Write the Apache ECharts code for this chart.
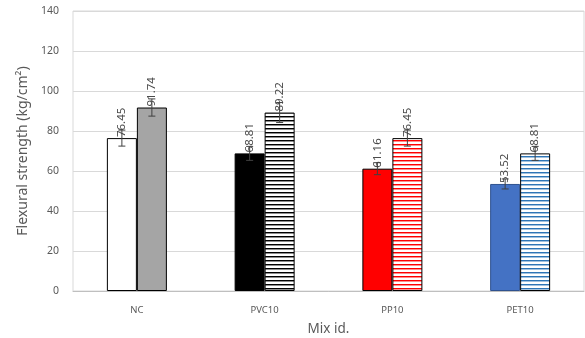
<!DOCTYPE html>
<html>
<head>
<meta charset="utf-8">
<script src="https://cdn.jsdelivr.net/npm/echarts@6/dist/echarts.min.js"></script>
<style>html,body{margin:0;padding:0;background:#fff}#c{width:585px;height:338px}</style>
</head>
<body>
<div id="c"></div>
<script>
// Mix designs and flexural strength results (kg/cm²)
const categories = ['NC', 'PVC10', 'PP10', 'PET10'];
const firstValues = [76.45, 68.81, 61.16, 53.52];
const secondValues = [91.74, 89.22, 76.45, 68.81];
// Standard deviation shown as error bars
const firstErrors = [4.0, 3.5, 3.0, 2.5];
const secondErrors = [4.3, 5.0, 4.0, 3.5];
const yTicks = [0, 20, 40, 60, 80, 100, 120, 140];

const FONT = '"Noto Sans", "Open Sans", sans-serif';

// Horizontal-stripe fill used for the second bar of each mix
function stripes(lineColor) {
  const c = document.createElement('canvas');
  c.width = 4; c.height = 4;
  const g = c.getContext('2d');
  g.fillStyle = '#ffffff';
  g.fillRect(0, 0, 4, 4);
  g.fillStyle = lineColor;
  g.fillRect(0, 0, 4, 1);
  g.globalAlpha = 0.45;
  g.fillRect(0, 1, 4, 1);
  return { image: c, repeat: 'repeat' };
}

const firstColors = ['#ffffff', '#000000', '#ff0000', '#4472c4'];
const firstBorders = ['#000000', '#000000', '#000000', '#2f528f'];
const secondFills = [{ plain: '#a5a5a5' }, { line: '#000000' }, { line: '#ff0000' }, { line: '#2e75b6' }];

const chart = echarts.init(document.getElementById('c'), null, { renderer: 'canvas' });

const labelStyle = {
  show: true,
  position: 'top',
  rotate: 90,
  align: 'left',
  verticalAlign: 'middle',
  distance: 1,
  fontSize: 11.5,
  color: '#4a4a4a',
  fontFamily: FONT,
  formatter: p => p.value.toFixed(2)
};

function errorSeries(values, errors, offset) {
  return {
    type: 'custom',
    z: 5,
    data: values.map((v, i) => [i, v, errors[i]]),
    renderItem: (params, api) => {
      const i = api.value(0), v = api.value(1), e = api.value(2);
      const hi = api.coord([i, v + e]);
      const lo = api.coord([i, v - e]);
      const x = hi[0] + offset;
      const cap = 3.5;
      const style = { stroke: '#404040', lineWidth: 1 };
      return {
        type: 'group',
        children: [
          { type: 'line', shape: { x1: x, y1: hi[1], x2: x, y2: lo[1] }, style },
          { type: 'line', shape: { x1: x - cap, y1: hi[1], x2: x + cap, y2: hi[1] }, style },
          { type: 'line', shape: { x1: x - cap, y1: lo[1], x2: x + cap, y2: lo[1] }, style }
        ]
      };
    }
  };
}

chart.setOption({
  animation: false,
  backgroundColor: '#ffffff',
  grid: {
    left: 73, right: 1, top: 11, bottom: 47,
    outerBoundsMode: 'none',
    containLabel: false,
    show: true, borderColor: '#d9d9d9', borderWidth: 1
  },
  xAxis: {
    type: 'category',
    data: categories,
    name: 'Mix id.',
    nameLocation: 'middle',
    nameGap: 31,
    nameTextStyle: { fontSize: 13.5, color: '#595959', fontFamily: FONT },
    axisLine: { lineStyle: { color: '#bfbfbf' } },
    axisTick: { show: false },
    axisLabel: { fontSize: 9.5, color: '#595959', margin: 14, fontFamily: FONT }
  },
  yAxis: {
    type: 'value',
    min: yTicks[0],
    max: yTicks[yTicks.length - 1],
    interval: 20,
    name: 'Flexural strength (kg/cm²)',
    nameLocation: 'middle',
    nameGap: 42,
    nameTextStyle: { fontSize: 14, color: '#595959', fontFamily: FONT },
    axisLine: { show: false },
    axisTick: { show: false },
    splitLine: { lineStyle: { color: '#d9d9d9' } },
    axisLabel: { fontSize: 10.5, color: '#595959', margin: 14, fontFamily: FONT }
  },
  series: [
    {
      type: 'bar',
      barWidth: 30,
      barGap: '0%',
      data: firstValues.map((v, i) => ({
        value: v,
        itemStyle: { color: firstColors[i], borderColor: firstBorders[i], borderWidth: 1 }
      })),
      label: labelStyle
    },
    {
      type: 'bar',
      barWidth: 30,
      data: secondValues.map((v, i) => ({
        value: v,
        itemStyle: {
          color: secondFills[i].plain || stripes(secondFills[i].line),
          borderColor: '#000000',
          borderWidth: 1
        }
      })),
      label: labelStyle
    },
    errorSeries(firstValues, firstErrors, -15),
    errorSeries(secondValues, secondErrors, 15)
  ]
});
</script>
</body>
</html>
